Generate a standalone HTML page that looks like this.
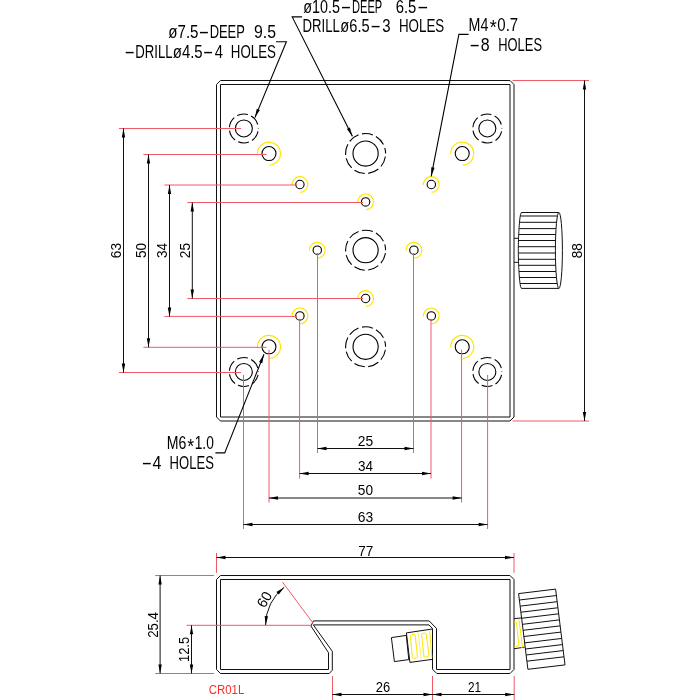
<!DOCTYPE html>
<html><head><meta charset="utf-8"><title>CR01L</title>
<style>
html,body{margin:0;padding:0;background:#fff;}
body{width:700px;height:700px;overflow:hidden;}
svg{display:block;}
.t{font-family:"Liberation Sans","DejaVu Sans",sans-serif;}
</style></head><body>
<svg width="700" height="700" viewBox="0 0 700 700">
<rect width="700" height="700" fill="#fff"/>
<defs><filter id="ga" filterUnits="userSpaceOnUse" x="0" y="0" width="700" height="700"><feOffset dx="0" dy="0"/></filter></defs>
<g>
<path d="M220.50 80.50 L510.00 80.50 L514.00 84.50 L514.00 417.00 L510.00 421.00 L220.50 421.00 L216.50 417.00 L216.50 84.50 Z" stroke="#111" stroke-width="1" fill="none"/>
<path d="M220.50 84.50 L510.00 84.50 L510.00 417.00 L220.50 417.00 Z" stroke="#111" stroke-width="1" fill="none"/>
<circle cx="243.85" cy="128.45" r="8.50" stroke="#000" stroke-width="1.1" fill="none" />
<circle cx="243.85" cy="128.45" r="14.50" stroke="#000" stroke-width="1.1" fill="none" stroke-dasharray="11 3.5" stroke-dashoffset="-3"/>
<circle cx="268.98" cy="153.57" r="7.00" stroke="#000" stroke-width="1.1" fill="none" />
<path d="M257.50 154.38 A11.50 11.50 0 1 1 269.38 165.07" stroke="#ffe600" stroke-width="1.15" fill="none"/>
<circle cx="299.90" cy="184.50" r="4.20" stroke="#000" stroke-width="1.1" fill="none" />
<path d="M292.01 185.05 A7.90 7.90 0 1 1 300.17 192.39" stroke="#ffe600" stroke-width="1.15" fill="none"/>
<circle cx="243.85" cy="371.95" r="8.50" stroke="#000" stroke-width="1.1" fill="none" />
<circle cx="243.85" cy="371.95" r="14.50" stroke="#000" stroke-width="1.1" fill="none" stroke-dasharray="11 3.5" stroke-dashoffset="-3"/>
<circle cx="268.98" cy="346.82" r="7.00" stroke="#000" stroke-width="1.1" fill="none" />
<path d="M257.50 347.63 A11.50 11.50 0 1 1 269.38 358.32" stroke="#ffe600" stroke-width="1.15" fill="none"/>
<circle cx="299.90" cy="315.90" r="4.20" stroke="#000" stroke-width="1.1" fill="none" />
<path d="M292.01 316.46 A7.90 7.90 0 1 1 300.17 323.80" stroke="#ffe600" stroke-width="1.15" fill="none"/>
<circle cx="487.35" cy="128.45" r="8.50" stroke="#000" stroke-width="1.1" fill="none" />
<circle cx="487.35" cy="128.45" r="14.50" stroke="#000" stroke-width="1.1" fill="none" stroke-dasharray="11 3.5" stroke-dashoffset="-3"/>
<circle cx="462.23" cy="153.57" r="7.00" stroke="#000" stroke-width="1.1" fill="none" />
<path d="M450.75 154.38 A11.50 11.50 0 1 1 462.63 165.07" stroke="#ffe600" stroke-width="1.15" fill="none"/>
<circle cx="431.31" cy="184.50" r="4.20" stroke="#000" stroke-width="1.1" fill="none" />
<path d="M423.42 185.05 A7.90 7.90 0 1 1 431.58 192.39" stroke="#ffe600" stroke-width="1.15" fill="none"/>
<circle cx="487.35" cy="371.95" r="8.50" stroke="#000" stroke-width="1.1" fill="none" />
<circle cx="487.35" cy="371.95" r="14.50" stroke="#000" stroke-width="1.1" fill="none" stroke-dasharray="11 3.5" stroke-dashoffset="-3"/>
<circle cx="462.23" cy="346.82" r="7.00" stroke="#000" stroke-width="1.1" fill="none" />
<path d="M450.75 347.63 A11.50 11.50 0 1 1 462.63 358.32" stroke="#ffe600" stroke-width="1.15" fill="none"/>
<circle cx="431.31" cy="315.90" r="4.20" stroke="#000" stroke-width="1.1" fill="none" />
<path d="M423.42 316.46 A7.90 7.90 0 1 1 431.58 323.80" stroke="#ffe600" stroke-width="1.15" fill="none"/>
<circle cx="365.60" cy="153.57" r="12.60" stroke="#000" stroke-width="1.1" fill="none" />
<circle cx="365.60" cy="153.57" r="20.00" stroke="#000" stroke-width="1.1" fill="none" stroke-dasharray="11 3.5" stroke-dashoffset="-3"/>
<circle cx="365.60" cy="250.20" r="12.60" stroke="#000" stroke-width="1.1" fill="none" />
<circle cx="365.60" cy="250.20" r="20.00" stroke="#000" stroke-width="1.1" fill="none" stroke-dasharray="11 3.5" stroke-dashoffset="-3"/>
<circle cx="365.60" cy="346.82" r="12.60" stroke="#000" stroke-width="1.1" fill="none" />
<circle cx="365.60" cy="346.82" r="20.00" stroke="#000" stroke-width="1.1" fill="none" stroke-dasharray="11 3.5" stroke-dashoffset="-3"/>
<circle cx="365.60" cy="201.89" r="4.20" stroke="#000" stroke-width="1.1" fill="none" />
<path d="M357.72 202.44 A7.90 7.90 0 1 1 365.88 209.78" stroke="#ffe600" stroke-width="1.15" fill="none"/>
<circle cx="365.60" cy="298.51" r="4.20" stroke="#000" stroke-width="1.1" fill="none" />
<path d="M357.72 299.06 A7.90 7.90 0 1 1 365.88 306.41" stroke="#ffe600" stroke-width="1.15" fill="none"/>
<circle cx="317.29" cy="250.20" r="4.20" stroke="#000" stroke-width="1.1" fill="none" />
<path d="M309.41 250.75 A7.90 7.90 0 1 1 317.56 258.10" stroke="#ffe600" stroke-width="1.15" fill="none"/>
<circle cx="413.91" cy="250.20" r="4.20" stroke="#000" stroke-width="1.1" fill="none" />
<path d="M406.03 250.75 A7.90 7.90 0 1 1 414.19 258.10" stroke="#ffe600" stroke-width="1.15" fill="none"/>
<line x1="119.00" y1="128.50" x2="241.10" y2="128.50" stroke="#ee5a66" stroke-width="1" fill="none"/>
<line x1="119.00" y1="372.50" x2="241.10" y2="372.50" stroke="#ee5a66" stroke-width="1" fill="none"/>
<line x1="123.50" y1="128.50" x2="123.50" y2="372.50" stroke="#111" stroke-width="1" fill="none"/>
<path d="M123.50 128.50 L125.20 137.50 L121.80 137.50 Z" fill="#000" stroke="none"/>
<path d="M123.50 372.50 L121.80 363.50 L125.20 363.50 Z" fill="#000" stroke="none"/>
<line x1="143.40" y1="154.50" x2="266.60" y2="154.50" stroke="#ee5a66" stroke-width="1" fill="none"/>
<line x1="143.40" y1="347.30" x2="266.60" y2="347.30" stroke="#ee5a66" stroke-width="1" fill="none"/>
<line x1="148.50" y1="154.50" x2="148.50" y2="347.30" stroke="#111" stroke-width="1" fill="none"/>
<path d="M148.50 154.50 L150.20 163.50 L146.80 163.50 Z" fill="#000" stroke="none"/>
<path d="M148.50 347.30 L146.80 338.30 L150.20 338.30 Z" fill="#000" stroke="none"/>
<line x1="164.40" y1="185.00" x2="297.20" y2="185.00" stroke="#ee5a66" stroke-width="1" fill="none"/>
<line x1="164.40" y1="316.40" x2="297.20" y2="316.40" stroke="#ee5a66" stroke-width="1" fill="none"/>
<line x1="169.50" y1="185.00" x2="169.50" y2="316.40" stroke="#111" stroke-width="1" fill="none"/>
<path d="M169.50 185.00 L171.20 194.00 L167.80 194.00 Z" fill="#000" stroke="none"/>
<path d="M169.50 316.40 L167.80 307.40 L171.20 307.40 Z" fill="#000" stroke="none"/>
<line x1="187.40" y1="202.50" x2="363.10" y2="202.50" stroke="#ee5a66" stroke-width="1" fill="none"/>
<line x1="187.40" y1="298.50" x2="363.10" y2="298.50" stroke="#ee5a66" stroke-width="1" fill="none"/>
<line x1="192.30" y1="202.50" x2="192.30" y2="298.50" stroke="#111" stroke-width="1" fill="none"/>
<path d="M192.30 202.50 L194.00 211.50 L190.60 211.50 Z" fill="#000" stroke="none"/>
<path d="M192.30 298.50 L190.60 289.50 L194.00 289.50 Z" fill="#000" stroke="none"/>
<line x1="243.50" y1="374.90" x2="243.50" y2="529.00" stroke="#ee5a66" stroke-width="1" fill="none"/>
<line x1="487.60" y1="374.90" x2="487.60" y2="529.00" stroke="#ee5a66" stroke-width="1" fill="none"/>
<line x1="243.50" y1="524.50" x2="487.60" y2="524.50" stroke="#111" stroke-width="1" fill="none"/>
<path d="M243.50 524.50 L252.50 522.80 L252.50 526.20 Z" fill="#000" stroke="none"/>
<path d="M487.60 524.50 L478.60 526.20 L478.60 522.80 Z" fill="#000" stroke="none"/>
<line x1="269.00" y1="349.70" x2="269.00" y2="502.60" stroke="#ee5a66" stroke-width="1" fill="none"/>
<line x1="461.60" y1="349.70" x2="461.60" y2="502.60" stroke="#ee5a66" stroke-width="1" fill="none"/>
<line x1="269.00" y1="498.00" x2="461.60" y2="498.00" stroke="#111" stroke-width="1" fill="none"/>
<path d="M269.00 498.00 L278.00 496.30 L278.00 499.70 Z" fill="#000" stroke="none"/>
<path d="M461.60 498.00 L452.60 499.70 L452.60 496.30 Z" fill="#000" stroke="none"/>
<line x1="299.60" y1="318.80" x2="299.60" y2="478.60" stroke="#ee5a66" stroke-width="1" fill="none"/>
<line x1="431.00" y1="318.80" x2="431.00" y2="478.60" stroke="#ee5a66" stroke-width="1" fill="none"/>
<line x1="299.60" y1="473.50" x2="431.00" y2="473.50" stroke="#111" stroke-width="1" fill="none"/>
<path d="M299.60 473.50 L308.60 471.80 L308.60 475.20 Z" fill="#000" stroke="none"/>
<path d="M431.00 473.50 L422.00 475.20 L422.00 471.80 Z" fill="#000" stroke="none"/>
<line x1="317.50" y1="253.00" x2="317.50" y2="453.00" stroke="#ee5a66" stroke-width="1" fill="none"/>
<line x1="413.50" y1="253.00" x2="413.50" y2="453.00" stroke="#ee5a66" stroke-width="1" fill="none"/>
<line x1="317.50" y1="448.50" x2="413.50" y2="448.50" stroke="#111" stroke-width="1" fill="none"/>
<path d="M317.50 448.50 L326.50 446.80 L326.50 450.20 Z" fill="#000" stroke="none"/>
<path d="M413.50 448.50 L404.50 450.20 L404.50 446.80 Z" fill="#000" stroke="none"/>
<line x1="512.60" y1="80.50" x2="589.00" y2="80.50" stroke="#ee5a66" stroke-width="1" fill="none"/>
<line x1="512.60" y1="421.00" x2="589.00" y2="421.00" stroke="#ee5a66" stroke-width="1" fill="none"/>
<line x1="584.50" y1="80.50" x2="584.50" y2="421.00" stroke="#111" stroke-width="1" fill="none"/>
<path d="M584.50 80.50 L586.20 89.50 L582.80 89.50 Z" fill="#000" stroke="none"/>
<path d="M584.50 421.00 L582.80 412.00 L586.20 412.00 Z" fill="#000" stroke="none"/>
<line x1="521.40" y1="212.50" x2="558.90" y2="212.50" stroke="#111" stroke-width="1" fill="none"/>
<line x1="520.25" y1="216.00" x2="557.43" y2="216.00" stroke="#111" stroke-width="1" fill="none"/>
<line x1="519.51" y1="222.30" x2="556.55" y2="222.30" stroke="#111" stroke-width="1" fill="none"/>
<line x1="519.03" y1="228.60" x2="556.04" y2="228.60" stroke="#111" stroke-width="1" fill="none"/>
<line x1="518.71" y1="234.50" x2="555.72" y2="234.50" stroke="#111" stroke-width="1" fill="none"/>
<line x1="518.48" y1="240.50" x2="555.52" y2="240.50" stroke="#111" stroke-width="1" fill="none"/>
<line x1="518.33" y1="246.70" x2="555.42" y2="246.70" stroke="#111" stroke-width="1" fill="none"/>
<line x1="518.32" y1="253.00" x2="555.41" y2="253.00" stroke="#111" stroke-width="1" fill="none"/>
<line x1="518.45" y1="259.30" x2="555.50" y2="259.30" stroke="#111" stroke-width="1" fill="none"/>
<line x1="518.66" y1="265.30" x2="555.68" y2="265.30" stroke="#111" stroke-width="1" fill="none"/>
<line x1="518.98" y1="271.50" x2="555.99" y2="271.50" stroke="#111" stroke-width="1" fill="none"/>
<line x1="519.41" y1="277.50" x2="556.45" y2="277.50" stroke="#111" stroke-width="1" fill="none"/>
<line x1="520.04" y1="283.50" x2="557.18" y2="283.50" stroke="#111" stroke-width="1" fill="none"/>
<line x1="521.40" y1="288.40" x2="558.90" y2="288.40" stroke="#111" stroke-width="1" fill="none"/>
<path d="M521.40 212.50 L520.56 214.40 L520.21 216.30 L519.94 218.19 L519.72 220.09 L519.53 221.99 L519.37 223.88 L519.22 225.78 L519.09 227.68 L518.97 229.58 L518.86 231.47 L518.76 233.37 L518.68 235.27 L518.60 237.17 L518.53 239.06 L518.47 240.96 L518.41 242.86 L518.37 244.76 L518.33 246.66 L518.31 248.55 L518.30 250.45 L518.31 252.35 L518.33 254.24 L518.37 256.14 L518.41 258.04 L518.47 259.94 L518.53 261.83 L518.60 263.73 L518.68 265.63 L518.76 267.53 L518.86 269.42 L518.97 271.32 L519.09 273.22 L519.22 275.12 L519.37 277.01 L519.53 278.91 L519.72 280.81 L519.94 282.71 L520.21 284.60 L520.56 286.50 L521.40 288.40" stroke="#111" stroke-width="1" fill="none"/>
<ellipse cx="558.9" cy="250.45" rx="3.5" ry="37.95" stroke="#111" stroke-width="1" fill="none"/>
<line x1="514.00" y1="238.30" x2="518.40" y2="238.30" stroke="#111" stroke-width="1" fill="none"/>
<line x1="514.00" y1="262.30" x2="518.40" y2="262.30" stroke="#111" stroke-width="1" fill="none"/>
<path d="M276.00 41.80 L286.40 41.80 L254.90 117.60" stroke="#000" stroke-width="1.1" fill="none"/>
<path d="M254.90 117.60 L256.78 108.64 L259.92 109.94 Z" fill="#000" stroke="none"/>
<path d="M302.00 16.90 L292.20 16.90 L352.40 136.20" stroke="#000" stroke-width="1.1" fill="none"/>
<path d="M352.40 136.20 L346.84 128.93 L349.87 127.40 Z" fill="#000" stroke="none"/>
<path d="M468.60 34.40 L458.90 34.40 L431.20 176.30" stroke="#000" stroke-width="1.1" fill="none"/>
<path d="M431.20 176.30 L431.26 167.14 L434.60 167.80 Z" fill="#000" stroke="none"/>
<path d="M215.40 452.90 L224.70 452.90 L264.00 354.30" stroke="#000" stroke-width="1.1" fill="none"/>
<path d="M264.00 354.30 L262.25 363.29 L259.09 362.03 Z" fill="#000" stroke="none"/>
<path d="M220.50 575.50 L510.00 575.50 L514.00 579.50 L514.00 669.50 L510.00 673.50 L436.80 673.50 L432.50 669.20 L432.50 628.50 L429.00 624.90 L313.30 624.90 L332.30 651.30 L332.30 670.20 L329.20 673.50 L220.50 673.50 L216.50 669.50 L216.50 579.50 Z" stroke="#111" stroke-width="1" fill="none"/>
<path d="M220.50 579.50 L510.00 579.50 L510.00 669.50 L436.50 669.50 L436.50 628.50 L429.20 620.90 L313.50 620.90 L310.90 626.00 L328.50 652.70 L328.50 669.50 L220.50 669.50 Z" stroke="#111" stroke-width="1" fill="none"/>
<line x1="216.50" y1="553.00" x2="216.50" y2="572.80" stroke="#ee5a66" stroke-width="1" fill="none"/>
<line x1="514.00" y1="553.00" x2="514.00" y2="572.80" stroke="#ee5a66" stroke-width="1" fill="none"/>
<line x1="216.50" y1="557.50" x2="514.00" y2="557.50" stroke="#111" stroke-width="1" fill="none"/>
<path d="M216.50 557.50 L225.50 555.80 L225.50 559.20 Z" fill="#000" stroke="none"/>
<path d="M514.00 557.50 L505.00 559.20 L505.00 555.80 Z" fill="#000" stroke="none"/>
<line x1="155.20" y1="575.50" x2="214.00" y2="575.50" stroke="#ee5a66" stroke-width="1" fill="none"/>
<line x1="155.20" y1="673.50" x2="214.00" y2="673.50" stroke="#ee5a66" stroke-width="1" fill="none"/>
<line x1="160.10" y1="575.50" x2="160.10" y2="673.50" stroke="#111" stroke-width="1" fill="none"/>
<path d="M160.10 575.50 L161.80 584.50 L158.40 584.50 Z" fill="#000" stroke="none"/>
<path d="M160.10 673.50 L158.40 664.50 L161.80 664.50 Z" fill="#000" stroke="none"/>
<line x1="186.50" y1="625.30" x2="310.90" y2="625.30" stroke="#ee5a66" stroke-width="1" fill="none"/>
<line x1="191.50" y1="625.30" x2="191.50" y2="673.50" stroke="#111" stroke-width="1" fill="none"/>
<path d="M191.50 625.30 L193.20 634.30 L189.80 634.30 Z" fill="#000" stroke="none"/>
<path d="M191.50 673.50 L189.80 664.50 L193.20 664.50 Z" fill="#000" stroke="none"/>
<line x1="332.50" y1="676.00" x2="332.50" y2="700.00" stroke="#ee5a66" stroke-width="1" fill="none"/>
<line x1="432.50" y1="676.00" x2="432.50" y2="700.00" stroke="#ee5a66" stroke-width="1" fill="none"/>
<line x1="514.20" y1="676.00" x2="514.20" y2="700.00" stroke="#ee5a66" stroke-width="1" fill="none"/>
<line x1="332.50" y1="694.50" x2="514.20" y2="694.50" stroke="#111" stroke-width="1" fill="none"/>
<path d="M332.50 694.50 L341.50 692.80 L341.50 696.20 Z" fill="#000" stroke="none"/>
<path d="M432.50 694.50 L423.50 696.20 L423.50 692.80 Z" fill="#000" stroke="none"/>
<path d="M432.50 694.50 L441.50 692.80 L441.50 696.20 Z" fill="#000" stroke="none"/>
<path d="M514.20 694.50 L505.20 696.20 L505.20 692.80 Z" fill="#000" stroke="none"/>
<line x1="313.00" y1="623.00" x2="282.40" y2="582.00" stroke="#ee5a66" stroke-width="1" fill="none"/>
<path d="M265.60 625.00 A47.6 47.6 0 0 1 284.22 587.24" stroke="#111" stroke-width="1" fill="none"/>
<path d="M265.60 625.00 L264.69 615.89 L268.08 616.18 Z" fill="#000" stroke="none"/>
<path d="M284.22 587.24 L278.74 594.57 L276.44 592.06 Z" fill="#000" stroke="none"/>
<path d="M391.40 637.60 L406.30 635.40 L408.80 659.60 L394.40 661.60 Z" stroke="#111" stroke-width="1" fill="none"/>
<path d="M432.30 629.00 L406.40 632.90 L409.90 662.40 L432.30 659.40" stroke="#111" stroke-width="1" fill="none"/>
<path d="M410.41 636.20 Q410.30 635.00 411.48 634.77 L413.82 634.33 Q415.00 634.10 415.13 635.29 L417.47 656.51 Q417.60 657.70 416.42 657.90 L413.58 658.40 Q412.40 658.60 412.29 657.40 Z" stroke="#ffe600" stroke-width="1" fill="none"/>
<path d="M421.53 634.69 Q421.40 633.50 422.59 633.35 L424.91 633.05 Q426.10 632.90 426.25 634.09 L428.95 655.21 Q429.10 656.40 427.92 656.61 L425.18 657.09 Q424.00 657.30 423.87 656.11 Z" stroke="#ffe600" stroke-width="1" fill="none"/>
<line x1="418.00" y1="632.00" x2="421.40" y2="660.30" stroke="#ffe600" stroke-width="0.6" fill="none"/>
<line x1="429.70" y1="630.70" x2="431.90" y2="657.50" stroke="#ffe600" stroke-width="0.9" fill="none"/>
<path d="M518.60 593.60 L555.60 589.10 L565.00 664.90 L527.90 669.30 Z" stroke="#111" stroke-width="1" fill="none"/>
<line x1="519.39" y1="600.03" x2="556.40" y2="595.54" stroke="#111" stroke-width="1" fill="none"/>
<line x1="520.14" y1="606.17" x2="557.16" y2="601.68" stroke="#111" stroke-width="1" fill="none"/>
<line x1="520.89" y1="612.22" x2="557.91" y2="607.75" stroke="#111" stroke-width="1" fill="none"/>
<line x1="521.63" y1="618.28" x2="558.66" y2="613.81" stroke="#111" stroke-width="1" fill="none"/>
<line x1="522.38" y1="624.33" x2="559.42" y2="619.87" stroke="#111" stroke-width="1" fill="none"/>
<line x1="523.11" y1="630.31" x2="560.16" y2="625.86" stroke="#111" stroke-width="1" fill="none"/>
<line x1="523.87" y1="636.52" x2="560.93" y2="632.08" stroke="#111" stroke-width="1" fill="none"/>
<line x1="524.65" y1="642.88" x2="561.72" y2="638.45" stroke="#111" stroke-width="1" fill="none"/>
<line x1="525.41" y1="649.01" x2="562.48" y2="644.59" stroke="#111" stroke-width="1" fill="none"/>
<line x1="526.14" y1="654.99" x2="563.22" y2="650.57" stroke="#111" stroke-width="1" fill="none"/>
<line x1="526.90" y1="661.20" x2="563.99" y2="656.79" stroke="#111" stroke-width="1" fill="none"/>
<line x1="514.00" y1="618.70" x2="521.50" y2="617.90" stroke="#111" stroke-width="1" fill="none"/>
<line x1="514.00" y1="648.80" x2="524.60" y2="647.10" stroke="#111" stroke-width="1" fill="none"/>
<path d="M514.30 622.10 L516.40 622.10 L518.90 645.70 L514.30 646.90" stroke="#ffe600" stroke-width="1" fill="none"/>
<path d="M518.90 619.30 L522.50 647.20 L521.20 647.40" stroke="#ffe600" stroke-width="1" fill="none"/>
</g>
<g filter="url(#ga)">
<text class="t" y="250.40" font-size="14.5" fill="#000"  transform="rotate(-90 121.10 250.40)"><tspan x="113.36" textLength="15.41" lengthAdjust="spacingAndGlyphs">63</tspan></text>
<text class="t" y="250.40" font-size="14.5" fill="#000"  transform="rotate(-90 146.10 250.40)"><tspan x="138.50" textLength="15.19" lengthAdjust="spacingAndGlyphs">50</tspan></text>
<text class="t" y="250.40" font-size="14.5" fill="#000"  transform="rotate(-90 167.10 250.40)"><tspan x="159.54" textLength="15.01" lengthAdjust="spacingAndGlyphs">34</tspan></text>
<text class="t" y="250.40" font-size="14.5" fill="#000"  transform="rotate(-90 189.90 250.40)"><tspan x="182.16" textLength="15.38" lengthAdjust="spacingAndGlyphs">25</tspan></text>
<text class="t" y="521.90" font-size="14.5" fill="#000" ><tspan x="357.71" textLength="15.41" lengthAdjust="spacingAndGlyphs">63</tspan></text>
<text class="t" y="495.40" font-size="14.5" fill="#000" ><tspan x="357.85" textLength="15.19" lengthAdjust="spacingAndGlyphs">50</tspan></text>
<text class="t" y="470.90" font-size="14.5" fill="#000" ><tspan x="357.89" textLength="15.01" lengthAdjust="spacingAndGlyphs">34</tspan></text>
<text class="t" y="445.90" font-size="14.5" fill="#000" ><tspan x="357.71" textLength="15.38" lengthAdjust="spacingAndGlyphs">25</tspan></text>
<text class="t" y="250.70" font-size="15.2" fill="#000"  transform="rotate(-90 582.00 250.70)"><tspan x="574.42" textLength="15.19" lengthAdjust="spacingAndGlyphs">88</tspan></text>
<text class="t" y="38.30" font-size="17.6" fill="#000" ><tspan x="168.26" textLength="30.26" lengthAdjust="spacingAndGlyphs">ø7.5</tspan><tspan x="198.53" textLength="10.85" lengthAdjust="spacingAndGlyphs">-</tspan><tspan x="209.64" textLength="34.94" lengthAdjust="spacingAndGlyphs">DEEP</tspan> <tspan x="253.95" textLength="21.99" lengthAdjust="spacingAndGlyphs">9.5</tspan></text>
<text class="t" y="57.60" font-size="17.6" fill="#000" ><tspan x="124.23" textLength="10.85" lengthAdjust="spacingAndGlyphs">-</tspan><tspan x="135.32" textLength="37.24" lengthAdjust="spacingAndGlyphs">DRILL</tspan><tspan x="172.76" textLength="29.95" lengthAdjust="spacingAndGlyphs">ø4.5</tspan><tspan x="202.85" textLength="10.71" lengthAdjust="spacingAndGlyphs">-</tspan><tspan x="214.87" textLength="8.26" lengthAdjust="spacingAndGlyphs">4</tspan> <tspan x="230.80" textLength="45.13" lengthAdjust="spacingAndGlyphs">HOLES</tspan></text>
<text class="t" y="12.50" font-size="17.6" fill="#000" ><tspan x="303.28" textLength="36.63" lengthAdjust="spacingAndGlyphs">ø10.5</tspan><tspan x="340.63" textLength="10.85" lengthAdjust="spacingAndGlyphs">-</tspan><tspan x="351.99" textLength="29.99" lengthAdjust="spacingAndGlyphs">DEEP</tspan> <tspan x="395.66" textLength="20.64" lengthAdjust="spacingAndGlyphs">6.5</tspan><tspan x="417.02" textLength="11.67" lengthAdjust="spacingAndGlyphs">-</tspan></text>
<text class="t" y="31.70" font-size="17.6" fill="#000" ><tspan x="302.52" textLength="37.24" lengthAdjust="spacingAndGlyphs">DRILL</tspan><tspan x="340.37" textLength="29.23" lengthAdjust="spacingAndGlyphs">ø6.5</tspan><tspan x="370.35" textLength="10.71" lengthAdjust="spacingAndGlyphs">-</tspan><tspan x="382.34" textLength="8.31" lengthAdjust="spacingAndGlyphs">3</tspan> <tspan x="398.90" textLength="45.34" lengthAdjust="spacingAndGlyphs">HOLES</tspan></text>
<text class="t" y="30.80" font-size="17.6" fill="#000" ><tspan x="468.52" textLength="19.79" lengthAdjust="spacingAndGlyphs">M4</tspan><tspan x="489.68" font-size="20" y="34.45" textLength="7.02" lengthAdjust="spacingAndGlyphs">*</tspan><tspan x="497.30" y="30.80" textLength="20.85" lengthAdjust="spacingAndGlyphs">0.7</tspan></text>
<text class="t" y="50.70" font-size="17.6" fill="#000" ><tspan x="469.23" textLength="10.85" lengthAdjust="spacingAndGlyphs">-</tspan><tspan x="480.72" textLength="8.88" lengthAdjust="spacingAndGlyphs">8</tspan> <tspan x="498.23" textLength="43.78" lengthAdjust="spacingAndGlyphs">HOLES</tspan></text>
<text class="t" y="449.10" font-size="17.6" fill="#000" ><tspan x="166.74" textLength="19.59" lengthAdjust="spacingAndGlyphs">M6</tspan><tspan x="187.29" font-size="20" y="452.75" textLength="6.91" lengthAdjust="spacingAndGlyphs">*</tspan><tspan x="194.67" y="449.10" textLength="19.15" lengthAdjust="spacingAndGlyphs">1.0</tspan></text>
<text class="t" y="468.70" font-size="17.6" fill="#000" ><tspan x="141.45" textLength="10.71" lengthAdjust="spacingAndGlyphs">-</tspan><tspan x="152.54" textLength="8.92" lengthAdjust="spacingAndGlyphs">4</tspan> <tspan x="169.62" textLength="44.30" lengthAdjust="spacingAndGlyphs">HOLES</tspan></text>
<text class="t" y="555.60" font-size="14.5" fill="#000" ><tspan x="358.19" textLength="15.13" lengthAdjust="spacingAndGlyphs">77</tspan></text>
<text class="t" y="624.80" font-size="14.5" fill="#000"  transform="rotate(-90 158.00 624.80)"><tspan x="144.94" textLength="25.85" lengthAdjust="spacingAndGlyphs">25.4</tspan></text>
<text class="t" y="649.20" font-size="14.5" fill="#000"  transform="rotate(-90 189.40 649.20)"><tspan x="176.63" textLength="25.10" lengthAdjust="spacingAndGlyphs">12.5</tspan></text>
<text class="t" y="692.00" font-size="14.5" fill="#000" ><tspan x="375.75" textLength="14.43" lengthAdjust="spacingAndGlyphs">26</tspan></text>
<text class="t" y="692.00" font-size="14.5" fill="#000" ><tspan x="467.91" textLength="13.18" lengthAdjust="spacingAndGlyphs">21</tspan></text>
<text class="t" y="601.90" font-size="14.5" fill="#000"  transform="rotate(-60 268.70 601.90)"><tspan x="260.80" textLength="15.67" lengthAdjust="spacingAndGlyphs">60</tspan></text>
<text class="t" y="694.30" font-size="13.2" fill="#ff2a2a" ><tspan x="208.63" textLength="35.65" lengthAdjust="spacingAndGlyphs">CR01L</tspan></text>
</g>
</svg>
</body></html>
